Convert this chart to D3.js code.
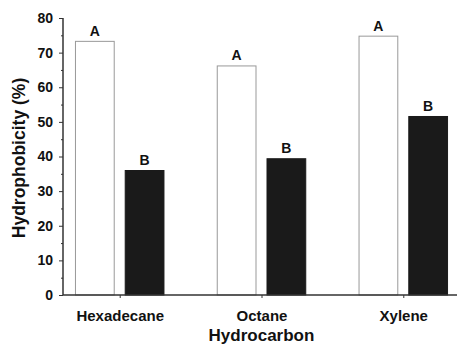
<!DOCTYPE html>
<html><head><meta charset="utf-8">
<script src="https://cdn.jsdelivr.net/npm/d3@7"></script>
<style>
html,body{margin:0;padding:0;background:#fff;}
svg{display:block;font-family:"Liberation Sans",Arial,sans-serif;font-weight:bold;}
</style></head>
<body>
<script>
const categories = ["Hexadecane", "Octane", "Xylene"];
const seriesNames = ["control", "treated"];
const whiteValues = [73.4, 66.3, 74.9];
const blackValues = [36.1, 39.5, 51.7];
const whiteLetters = ["A", "A", "A"];
const blackLetters = ["B", "B", "B"];
const yTicks = [0, 10, 20, 30, 40, 50, 60, 70, 80];
const yMinorTicks = [5, 15, 25, 35, 45, 55, 65, 75];

const W = 457, H = 347;
const svg = d3.select("body").append("svg").attr("width", W).attr("height", H);

const x0 = 63, x1 = 460, yTop = 18, yBot = 295;
const y = d3.scaleLinear().domain([0, 80]).range([yBot, yTop]);
const x = d3.scalePoint().domain(categories).range([x0, x1]).padding(0.4);
const xs = d3.scaleBand().domain(seriesNames).range([-44.75, 44.75]).paddingInner(10 / 49.75);

const data = categories.map((c, i) => ({
  cat: c,
  bars: [
    {s: "control", v: whiteValues[i], l: whiteLetters[i]},
    {s: "treated", v: blackValues[i], l: blackLetters[i]}
  ]
}));

const g = svg.append("g");
const groups = g.selectAll("g.grp").data(data).join("g")
  .attr("transform", d => `translate(${x(d.cat)},0)`);

groups.selectAll("rect").data(d => d.bars).join("rect")
  .attr("x", d => xs(d.s) + 0.5)
  .attr("y", d => y(d.v) + 0.5)
  .attr("width", xs.bandwidth() - 1)
  .attr("height", d => yBot - y(d.v) - 0.5)
  .attr("fill", d => d.s === "control" ? "#ffffff" : "#1a1a1a")
  .attr("stroke", d => d.s === "control" ? "#999" : "#1a1a1a")
  .attr("stroke-width", 1);

groups.selectAll("text.let").data(d => d.bars).join("text")
  .attr("class", "let")
  .attr("x", d => xs(d.s) + xs.bandwidth() / 2)
  .attr("y", d => y(d.v) - 5)
  .attr("text-anchor", "middle")
  .attr("font-size", 14)
  .attr("fill", "#111")
  .text(d => d.l);

// y axis
const yAxis = d3.axisLeft(y).tickValues(yTicks).tickSize(4).tickPadding(6).tickFormat(d3.format("d"));
const ya = svg.append("g").attr("transform", `translate(${x0},0)`).call(yAxis);
ya.select(".domain").attr("stroke", "#333").attr("stroke-width", 1.5).attr("d", `M0,${yTop}V${yBot}`);
ya.selectAll(".tick line").attr("stroke", "#333");
ya.selectAll(".tick text").attr("font-size", 14).attr("font-weight", "bold").attr("fill", "#111")
  .attr("font-family", "Liberation Sans, Arial, sans-serif");
const yMinor = d3.axisLeft(y).tickValues(yMinorTicks).tickSize(2).tickFormat("");
const ym = svg.append("g").attr("transform", `translate(${x0},0)`).call(yMinor);
ym.select(".domain").remove();
ym.selectAll(".tick line").attr("stroke", "#333");

// x axis
const xAxis = d3.axisBottom(x).tickSize(3).tickPadding(12);
const xa = svg.append("g").attr("transform", `translate(0,${yBot})`).call(xAxis);
xa.select(".domain").attr("stroke", "#333").attr("stroke-width", 1.5).attr("d", `M${x0},0H${W}`);
xa.selectAll(".tick line").attr("stroke", "#333");
xa.selectAll(".tick text").attr("font-size", 15).attr("font-weight", "bold").attr("fill", "#111")
  .attr("font-family", "Liberation Sans, Arial, sans-serif");

// titles
svg.append("text")
  .attr("x", x(categories[1]))
  .attr("y", 341)
  .attr("text-anchor", "middle")
  .attr("font-size", 17)
  .attr("fill", "#111")
  .text("Hydrocarbon");

svg.append("text")
  .attr("transform", `translate(25,158) rotate(-90)`)
  .attr("text-anchor", "middle")
  .attr("font-size", 17.5)
  .attr("fill", "#111")
  .text("Hydrophobicity (%)");
</script>
</body></html>
